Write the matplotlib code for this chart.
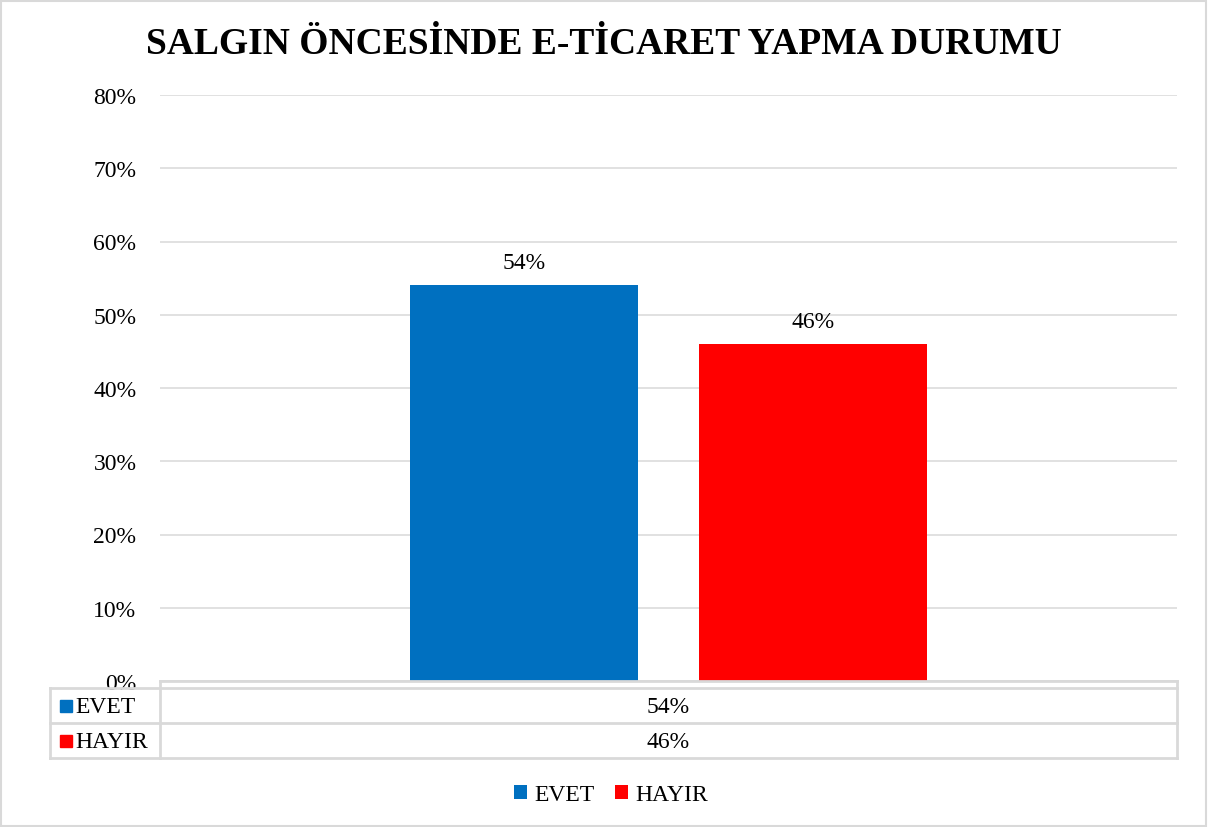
import matplotlib
matplotlib.use('Agg')
from matplotlib import pyplot as plt
from matplotlib.lines import Line2D
from matplotlib.patches import Rectangle

plt.rcParams['font.family'] = ['Liberation Serif', 'DejaVu Serif']

title = 'SALGIN ÖNCESİNDE E-TİCARET YAPMA DURUMU'
series = ['EVET', 'HAYIR']
values = [54, 46]
colors = ['#0070C0', '#FF0000']
y_ticks = [0, 10, 20, 30, 40, 50, 60, 70, 80]

W, H = 1208, 828
fig = plt.figure(figsize=(W / 100, H / 100), dpi=100)

def fx(px):
    return px / W

def fy(py):
    return 1 - py / H

fs = 17

# plot area
left, right, top, bottom = 160, 1177, 96, 682
ax = fig.add_axes([fx(left), fy(bottom), fx(right - left), fy(top) - fy(bottom)])

bar_w = 0.225
offsets = [-0.142, 0.142]
for name, v, c, off in zip(series, values, colors, offsets):
    ax.bar(off, v, width=bar_w, color=c, label=name, zorder=3)
    ax.text(off, v + 1.7, f'{v}%', ha='center', va='bottom', fontsize=fs)

ax.set_xlim(-0.5, 0.5)
ax.set_ylim(0, 80)
ax.set_yticks(y_ticks)
ax.set_yticklabels([f'{t}%' for t in y_ticks], fontsize=fs)
ax.set_xticks([])
ax.tick_params(axis='y', length=0, pad=17)
ax.grid(axis='y', color='#D9D9D9', lw=1.1, zorder=0)
for s in ax.spines.values():
    s.set_visible(False)

fig.text(0.5, fy(45), title, ha='center', va='center', fontsize=27, fontweight='bold')

# data table under the plot
gc = '#D9D9D9'
lw = 2
def hline(x0, x1, y):
    fig.add_artist(Line2D([fx(x0), fx(x1)], [fy(y), fy(y)], color=gc, lw=lw))

def vline(x, y0, y1):
    fig.add_artist(Line2D([fx(x), fx(x)], [fy(y0), fy(y1)], color=gc, lw=lw))

tab_l, row_top, row_h = 50, 689, 35
hline(left, right, 682)
vline(left, 682, row_top + 2 * row_h)
vline(right, 682, row_top + 2 * row_h)
vline(tab_l, row_top, row_top + 2 * row_h)
for i in range(3):
    hline(tab_l, right, row_top + i * row_h)

for i, (name, v, c) in enumerate(zip(series, values, colors)):
    yc = row_top + i * row_h + row_h / 2
    fig.add_artist(Rectangle((fx(60), fy(yc + 6)), fx(12), fy(yc - 6) - fy(yc + 6),
                             color=c, transform=fig.transFigure))
    fig.text(fx(75), fy(yc + 1), name, ha='left', va='center', fontsize=fs)
    fig.text(fx((left + right) / 2), fy(yc + 1), f'{v}%', ha='center', va='center', fontsize=fs)

leg = fig.legend(loc='center', bbox_to_anchor=(fx(611), fy(796)), ncol=2, frameon=False,
                 fontsize=fs, handlelength=0.55, handleheight=0.55, handletextpad=0.3,
                 columnspacing=0.9)

# outer border
fig.add_artist(Rectangle((0.001, 0.001), 0.997, 0.997, fill=False, edgecolor=gc, lw=1.5,
                         transform=fig.transFigure))

fig.savefig('out.png', dpi=100)
